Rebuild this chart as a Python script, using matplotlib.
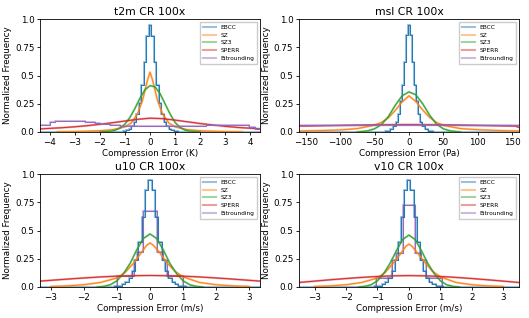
import matplotlib
matplotlib.use("Agg")
import matplotlib.pyplot as plt

series_names = ["EBCC", "SZ", "SZ3", "SPERR", "Bitrounding"]
titles = ["t2m CR 100x", "msl CR 100x", "u10 CR 100x", "v10 CR 100x"]
xlabels = ["Compression Error (K)", "Compression Error (Pa)",
           "Compression Error (m/s)", "Compression Error (m/s)"]
xlims = [(-4.4, 4.4), (-160, 160), (-3.33, 3.33), (-3.5, 3.5)]
xticks = [[-4, -3, -2, -1, 0, 1, 2, 3, 4],
          [-150, -100, -50, 0, 50, 100, 150],
          [-3, -2, -1, 0, 1, 2, 3],
          [-3, -2, -1, 0, 1, 2, 3]]
yticks = [0.0, 0.25, 0.5, 0.75, 1.0]
ytick_labels = ["0.0", "0.25", "0.5", "0.75", "1.0"]

# ---------------- t2m ----------------
t2m_ebcc_x = [-4.4, -1.2, -1.0, -0.9, -0.8, -0.7, -0.6, -0.5, -0.4, -0.3, -0.2, -0.1, 0.0,
              0.1, 0.2, 0.3, 0.4, 0.5, 0.6, 0.7, 0.8, 0.9, 1.0, 1.2, 4.4]
t2m_ebcc_y = [0.0, 0.002, 0.008, 0.015, 0.03, 0.05, 0.09, 0.16, 0.26, 0.42, 0.62, 0.85, 0.95,
              0.85, 0.62, 0.42, 0.26, 0.16, 0.09, 0.05, 0.03, 0.015, 0.008, 0.002, 0.0]
t2m_sz_x = [-3.7, -3.0, -2.5, -2.0, -1.5, -1.0, -0.75, -0.5, -0.3, -0.2, -0.1, 0.0,
            0.1, 0.2, 0.3, 0.5, 0.75, 1.0, 1.5, 2.0, 2.5, 3.0, 3.7]
t2m_sz_y = [0.002, 0.004, 0.007, 0.011, 0.02, 0.045, 0.08, 0.16, 0.28, 0.37, 0.46, 0.53,
            0.46, 0.37, 0.28, 0.16, 0.08, 0.045, 0.02, 0.011, 0.007, 0.004, 0.002]
t2m_sz3_x = [-2.0, -1.6, -1.4, -1.2, -1.0, -0.8, -0.6, -0.4, -0.2, 0.0, 0.2, 0.4,
             0.6, 0.8, 1.0, 1.2, 1.4, 1.6, 2.0]
t2m_sz3_y = [0.0, 0.006, 0.015, 0.035, 0.07, 0.13, 0.21, 0.30, 0.375, 0.41, 0.40, 0.34,
             0.25, 0.16, 0.085, 0.04, 0.017, 0.007, 0.0]
t2m_sperr_x = [-4.4, -3.5, -3.0, -2.5, -2.0, -1.5, -1.0, -0.5, 0.0, 0.5, 1.0, 1.5,
               2.0, 2.5, 3.0, 3.5, 4.4]
t2m_sperr_y = [0.027, 0.038, 0.046, 0.056, 0.068, 0.082, 0.097, 0.112, 0.122, 0.118, 0.105,
               0.09, 0.075, 0.062, 0.05, 0.04, 0.028]
t2m_bit_x = [-4.4, -4.1, -3.9, -3.7, -3.5, -3.3, -3.1, -2.9, -2.7, -2.5, -2.3, -2.1, -1.9,
             -1.7, -1.5, -1.3, -1.1, -0.9, -0.5, 0.0, 0.5, 1.0, 1.5, 2.0, 2.5, 3.0,
             3.5, 3.95, 4.0, 4.4]
t2m_bit_y = [0.062, 0.062, 0.088, 0.095, 0.10, 0.10, 0.097, 0.095, 0.093, 0.09, 0.085, 0.078,
             0.072, 0.067, 0.062, 0.058, 0.055, 0.052, 0.05, 0.05, 0.05, 0.052, 0.054, 0.056,
             0.058, 0.06, 0.061, 0.061, 0.04, 0.03]

# ---------------- msl ----------------
msl_ebcc_x = [-160, -40, -30, -25, -21, -18, -15, -12, -9, -6, -3, 0,
              3, 6, 9, 12, 15, 18, 21, 25, 30, 40, 160]
msl_ebcc_y = [0.0, 0.002, 0.01, 0.025, 0.05, 0.09, 0.16, 0.27, 0.42, 0.62, 0.86, 0.95,
              0.86, 0.62, 0.42, 0.27, 0.16, 0.09, 0.05, 0.025, 0.01, 0.002, 0.0]
msl_sz_x = [-160, -150, -125, -100, -75, -50, -40, -30, -20, -10, 0,
            10, 20, 30, 40, 50, 75, 100, 125, 150, 160]
msl_sz_y = [0.008, 0.01, 0.013, 0.018, 0.03, 0.06, 0.085, 0.125, 0.19, 0.265, 0.32,
            0.27, 0.195, 0.13, 0.085, 0.058, 0.03, 0.02, 0.014, 0.01, 0.009]
msl_sz3_x = [-75, -60, -50, -40, -30, -20, -10, 0, 10, 20, 30, 40, 50, 60, 75]
msl_sz3_y = [0.0, 0.01, 0.028, 0.065, 0.135, 0.235, 0.32, 0.355, 0.33, 0.25, 0.15, 0.07,
             0.028, 0.01, 0.0]
msl_sperr_x = [-160, -120, -80, -40, 0, 40, 80, 120, 155, 160]
msl_sperr_y = [0.052, 0.056, 0.06, 0.064, 0.066, 0.064, 0.06, 0.056, 0.052, 0.04]
msl_bit_x = [-160, -120, -80, -40, 0, 40, 80, 120, 160]
msl_bit_y = [0.058, 0.058, 0.059, 0.06, 0.06, 0.06, 0.059, 0.058, 0.058]

# ---------------- u10 ----------------
u10_ebcc_x = [-3.33, -1.2, -1.0, -0.9, -0.8, -0.7, -0.6, -0.5, -0.4, -0.3, -0.2, -0.1, 0.0,
              0.1, 0.2, 0.3, 0.4, 0.5, 0.6, 0.7, 0.8, 0.9, 1.0, 1.2, 3.33]
u10_ebcc_y = [0.0, 0.001, 0.005, 0.012, 0.025, 0.045, 0.08, 0.14, 0.24, 0.40, 0.62, 0.86, 0.95,
              0.86, 0.62, 0.40, 0.24, 0.14, 0.08, 0.045, 0.025, 0.012, 0.005, 0.001, 0.0]
u10_sz_x = [-3.0, -2.5, -2.0, -1.5, -1.0, -0.75, -0.5, -0.25, -0.1, 0.0, 0.1, 0.25, 0.5,
            0.75, 1.0, 1.5, 2.0, 2.5, 3.0]
u10_sz_y = [0.005, 0.01, 0.02, 0.04, 0.08, 0.13, 0.21, 0.31, 0.37, 0.39, 0.37, 0.32, 0.22,
            0.14, 0.09, 0.04, 0.02, 0.01, 0.005]
u10_sz3_x = [-1.6, -1.4, -1.2, -1.0, -0.8, -0.6, -0.4, -0.2, 0.0, 0.2, 0.4, 0.6, 0.8,
             1.0, 1.2, 1.4, 1.6]
u10_sz3_y = [0.0, 0.006, 0.02, 0.055, 0.12, 0.21, 0.33, 0.43, 0.47, 0.43, 0.33, 0.21, 0.12,
             0.055, 0.02, 0.006, 0.0]
u10_sperr_x = [-3.33, -2.5, -2.0, -1.5, -1.0, -0.5, 0.0, 0.5, 1.0, 1.5, 2.0, 2.5, 3.33]
u10_sperr_y = [0.052, 0.07, 0.08, 0.089, 0.096, 0.1, 0.102, 0.1, 0.096, 0.089, 0.08, 0.07, 0.052]
u10_bit_edges = [-1.0, -0.5, -0.4, -0.22, 0.22, 0.4, 0.5, 1.0]
u10_bit_h = [0.1, 0.24, 0.31, 0.67, 0.31, 0.24, 0.1]

# ---------------- v10 ----------------
v10_ebcc_x = [-3.5, -1.2, -1.0, -0.9, -0.8, -0.7, -0.6, -0.5, -0.4, -0.3, -0.2, -0.1, 0.0,
              0.1, 0.2, 0.3, 0.4, 0.5, 0.6, 0.7, 0.8, 0.9, 1.0, 1.2, 3.5]
v10_ebcc_y = [0.0, 0.001, 0.005, 0.012, 0.025, 0.045, 0.08, 0.14, 0.24, 0.40, 0.62, 0.86, 0.95,
              0.86, 0.62, 0.40, 0.24, 0.14, 0.08, 0.045, 0.025, 0.012, 0.005, 0.001, 0.0]
v10_sz_x = [-3.0, -2.5, -2.0, -1.5, -1.0, -0.75, -0.5, -0.25, -0.1, 0.0, 0.1, 0.25, 0.5,
            0.75, 1.0, 1.5, 2.0, 2.5, 3.0]
v10_sz_y = [0.005, 0.01, 0.02, 0.04, 0.08, 0.13, 0.21, 0.30, 0.36, 0.38, 0.36, 0.31, 0.22,
            0.14, 0.09, 0.04, 0.02, 0.01, 0.005]
v10_sz3_x = [-1.6, -1.4, -1.2, -1.0, -0.8, -0.6, -0.4, -0.2, 0.0, 0.2, 0.4, 0.6, 0.8,
             1.0, 1.2, 1.4, 1.6]
v10_sz3_y = [0.0, 0.006, 0.02, 0.055, 0.12, 0.21, 0.32, 0.42, 0.46, 0.42, 0.32, 0.21, 0.12,
             0.055, 0.02, 0.006, 0.0]
v10_sperr_x = [-3.5, -3.0, -2.5, -2.0, -1.5, -1.0, -0.5, 0.0, 0.5, 1.0, 1.5, 2.0, 2.5, 3.0, 3.5]
v10_sperr_y = [0.04, 0.052, 0.064, 0.075, 0.085, 0.093, 0.099, 0.101, 0.099, 0.093, 0.085,
               0.075, 0.064, 0.052, 0.04]
v10_bit_edges = [-1.05, -0.55, -0.4, -0.19, 0.19, 0.4, 0.55, 1.05]
v10_bit_h = [0.08, 0.24, 0.3, 0.73, 0.3, 0.24, 0.08]

panels = [
    dict(ebcc=(t2m_ebcc_x, t2m_ebcc_y), sz=(t2m_sz_x, t2m_sz_y), sz3=(t2m_sz3_x, t2m_sz3_y),
         sperr=(t2m_sperr_x, t2m_sperr_y), bit=("steps", t2m_bit_x, t2m_bit_y)),
    dict(ebcc=(msl_ebcc_x, msl_ebcc_y), sz=(msl_sz_x, msl_sz_y), sz3=(msl_sz3_x, msl_sz3_y),
         sperr=(msl_sperr_x, msl_sperr_y), bit=("line", msl_bit_x, msl_bit_y)),
    dict(ebcc=(u10_ebcc_x, u10_ebcc_y), sz=(u10_sz_x, u10_sz_y), sz3=(u10_sz3_x, u10_sz3_y),
         sperr=(u10_sperr_x, u10_sperr_y), bit=("hist", u10_bit_edges, u10_bit_h)),
    dict(ebcc=(v10_ebcc_x, v10_ebcc_y), sz=(v10_sz_x, v10_sz_y), sz3=(v10_sz3_x, v10_sz3_y),
         sperr=(v10_sperr_x, v10_sperr_y), bit=("hist", v10_bit_edges, v10_bit_h)),
]

colors = ["#1f77b4", "#ff7f0e", "#2ca02c", "#d62728", "#9467bd"]

fig = plt.figure(figsize=(5.29, 3.18), dpi=100)
rects = [[0.0756, 0.585, 0.416, 0.355], [0.565, 0.585, 0.416, 0.355],
         [0.0756, 0.0975, 0.416, 0.355], [0.565, 0.0975, 0.416, 0.355]]

THICK = 1.5
THIN = 0.75


def draw(ax, x, y, color, label, ds="default"):
    ax.plot(x, y, color=color, lw=THICK, alpha=0.45, drawstyle=ds, label=label)
    ax.plot(x, y, color=color, lw=THIN, alpha=0.95, drawstyle=ds)


for i, p in enumerate(panels):
    ax = fig.add_axes(rects[i])
    draw(ax, *p["ebcc"], colors[0], "EBCC", "steps-mid")
    draw(ax, *p["sz"], colors[1], "SZ")
    draw(ax, *p["sz3"], colors[2], "SZ3")
    draw(ax, *p["sperr"], colors[3], "SPERR")
    kind = p["bit"][0]
    if kind == "hist":
        edges, h = p["bit"][1], p["bit"][2]
        ax.stairs(h, edges, color=colors[4], lw=THICK, alpha=0.45, label="Bitrounding")
        ax.stairs(h, edges, color=colors[4], lw=THIN, alpha=0.95)
    elif kind == "steps":
        draw(ax, p["bit"][1], p["bit"][2], colors[4], "Bitrounding", "steps-mid")
    else:
        draw(ax, p["bit"][1], p["bit"][2], colors[4], "Bitrounding")
    ax.set_xlim(*xlims[i])
    ax.set_ylim(0, 1.0)
    ax.set_xticks(xticks[i])
    ax.set_xticklabels([("\u2212" if t < 0 else "") + str(abs(t)) for t in xticks[i]])
    ax.set_yticks(yticks)
    ax.set_yticklabels(ytick_labels)
    ax.tick_params(labelsize=6.3, length=2.5, width=0.6, pad=1.5)
    for s in ax.spines.values():
        s.set_linewidth(0.6)
    ax.set_title(titles[i], fontsize=7.8, pad=3)
    ax.set_xlabel(xlabels[i], fontsize=6.3, labelpad=1.5)
    ax.set_ylabel("Normalized Frequency", fontsize=6.3, labelpad=2)
    ax.legend(loc="upper right", fontsize=4.2, handlelength=2.2, borderpad=0.5,
              labelspacing=0.45, framealpha=1.0, fancybox=False, edgecolor="#cccccc")

fig.savefig("out.png", dpi=100)
